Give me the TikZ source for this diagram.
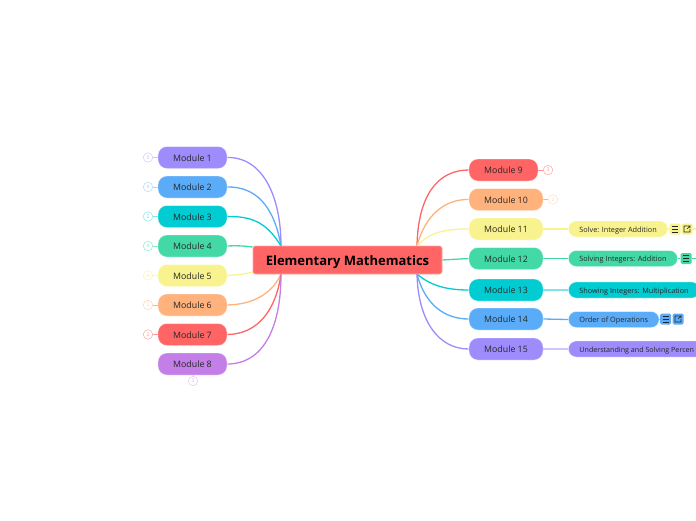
\documentclass[tikz,border=0pt]{standalone}
\usepackage{fontspec}
\setmainfont{Open Sans}
\usetikzlibrary{backgrounds}
\definecolor{modpurple}{HTML}{9E8CFC}
\definecolor{modblue}{HTML}{5AACF9}
\definecolor{modteal}{HTML}{00CCD2}
\definecolor{modgreen}{HTML}{43D9A6}
\definecolor{modyellow}{HTML}{F8F38F}
\definecolor{modorange}{HTML}{FFB27C}
\definecolor{modred}{HTML}{FF6565}
\definecolor{modviolet}{HTML}{C47EE8}
\tikzstyle{rootbox}=[
    draw=modred!60!white, fill=modred, line width=0.7pt,
    rounded corners=2.5pt,
    minimum width=189pt, minimum height=28pt,
    inner sep=0pt,
    text height=10.5pt, text depth=0pt,
    font=\fontsize{13}{14}\selectfont\bfseries,
]
\tikzstyle{modulebox}=[
    draw=white, draw opacity=0.35, line width=0.8pt,
    rounded corners=9pt,
    minimum height=22pt,
    inner sep=0pt,
    text height=7.4pt, text depth=0pt,
    font=\fontsize{8.8}{10}\selectfont,
    text=black!85,
]
\tikzstyle{topicbox}=[
    draw=white, draw opacity=0.35, line width=0.8pt,
    rounded corners=8pt,
    minimum height=16pt,
    inner xsep=11pt, inner ysep=0pt,
    text height=6.5pt, text depth=0pt,
    font=\fontsize{7.3}{8}\selectfont,
    text=black!85,
    anchor=west,
]
\tikzstyle{countmark}=[
    circle, fill=white, line width=0.6pt,
    minimum size=9.5pt, inner sep=0pt,
    font=\fontsize{5}{6}\selectfont,
]
\tikzstyle{iconbox}=[
    rounded corners=1.5pt,
    minimum size=11pt, inner sep=0pt,
]
\tikzstyle{noteicon}=[
    iconbox,
    path picture={
        \draw[sharp corners, line width=0.8pt, black!85]
            ([xshift=-3pt,yshift=3pt]path picture bounding box.center) -- ++(6pt,0)
            ([xshift=-3pt]path picture bounding box.center) -- ++(6pt,0)
            ([xshift=-3pt,yshift=-3pt]path picture bounding box.center) -- ++(6pt,0);
    },
]
\tikzstyle{linkicon}=[
    iconbox,
    path picture={
        \draw[sharp corners, line width=0.6pt, black!85]
            ([xshift=0.5pt,yshift=3pt]path picture bounding box.center) -- ++(-3.5pt,0) -- ++(0,-6pt)
            -- ++(6pt,0) -- ++(0,3pt)
            ([xshift=0pt,yshift=0pt]path picture bounding box.center) -- ++(3pt,3pt) -- ++(-2pt,0)
            ++(2pt,0) -- ++(0,-2pt);
    },
]
\tikzstyle{linkline}=[line width=1.3pt]
\begin{document}
\begin{tikzpicture}[x=1pt, y=-1pt]
    \useasboundingbox (0,0) rectangle (696,520);
    % centre
    \node[rootbox] (root) at (347.5,260) {Elementary Mathematics};
    \coordinate (rootleftn) at (281,246);
    \coordinate (rootlefts) at (281,274);
    \coordinate (rootrightn) at (417,246);
    \coordinate (rootrights) at (417,274);
    % left side
    \node[modulebox, fill=modpurple, minimum width=69pt] (m1) at (192.5,157.5) {Module 1};
    \node[modulebox, fill=modblue, minimum width=69pt] (m2) at (192.5,187) {Module 2};
    \node[modulebox, fill=modteal, minimum width=69pt] (m3) at (192.5,216.5) {Module 3};
    \node[modulebox, fill=modgreen, minimum width=69pt] (m4) at (192.5,246) {Module 4};
    \node[modulebox, fill=modyellow, minimum width=69pt] (m5) at (192.5,275.5) {Module 5};
    \node[modulebox, fill=modorange, minimum width=69pt] (m6) at (192.5,305) {Module 6};
    \node[modulebox, fill=modred, minimum width=69pt] (m7) at (192.5,334.5) {Module 7};
    \node[modulebox, fill=modviolet, minimum width=69pt] (m8) at (192.5,364) {Module 8};
    % right side
    \node[modulebox, fill=modred, minimum width=69pt] (m9) at (503.5,170) {Module 9};
    \node[modulebox, fill=modorange, minimum width=74pt] (m10) at (506,199.5) {Module 10};
    \node[modulebox, fill=modyellow, minimum width=74pt] (m11) at (506,229) {Module 11};
    \node[modulebox, fill=modgreen, minimum width=74pt] (m12) at (506,258.5) {Module 12};
    \node[modulebox, fill=modteal, minimum width=74pt] (m13) at (506,290) {Module 13};
    \node[modulebox, fill=modblue, minimum width=74pt] (m14) at (506,319) {Module 14};
    \node[modulebox, fill=modpurple, minimum width=74pt] (m15) at (506,349) {Module 15};
    % topics
    \node[topicbox, fill=modyellow] (t11) at (568,229) {Solve: Integer Addition};
    \node[topicbox, fill=modgreen] (t12) at (568,258.5) {Solving Integers: Addition};
    \node[topicbox, fill=modteal] (t13) at (568,290) {Showing Integers: Multiplication};
    \node[topicbox, fill=modblue] (t14) at (568,319.5) {Order of Operations};
    \node[topicbox, fill=modpurple, font=\fontsize{7.15}{8}\selectfont] (t15) at (568,349) {Understanding and Solving Percen};
    % icons
    \node[noteicon, fill=modyellow] (n11) at (675,229) {};
    \node[linkicon, fill=modyellow] (l11) at (687,229) {};
    \node[noteicon, fill=modgreen] (n12) at (686,258.5) {};
    \node[noteicon, fill=modblue] (n14) at (665.5,319) {};
    \node[linkicon, fill=modblue] (l14) at (678,319) {};
    \coordinate (t11out) at (696,229);
    \coordinate (t12out) at (696,258.5);
    % counts
    \node[countmark, draw=modpurple!40!white, text=modpurple!60!white] (c1) at (148,157.5) {3};
    \node[countmark, draw=modblue!40!white, text=modblue!60!white] (c2) at (148,187) {4};
    \node[countmark, draw=modteal!40!white, text=modteal!60!white] (c3) at (148,216.5) {2};
    \node[countmark, draw=modgreen!50!white, text=modgreen!70!white] (c4) at (148,246) {4};
    \node[countmark, draw=modyellow!60!white, text=modyellow] (c5) at (148,275.5) {4};
    \node[countmark, draw=modorange!50!white, text=modorange!70!white] (c6) at (148,305) {2};
    \node[countmark, draw=modred!50!white, text=modred!70!white] (c7) at (148,334.5) {2};
    \node[countmark, draw=modviolet!40!white, text=modviolet!60!white] (c8) at (193,381) {3};
    \node[countmark, draw=modred!50!white, text=modred!70!white] (c9) at (548,170) {3};
    \node[countmark, draw=modorange!40!white, text=modorange!60!white] (c10) at (553,199.5) {2};
    \begin{scope}[on background layer]
        \draw[linkline, modpurple] (m1.east) .. controls (262,157) and (281,195) .. (rootleftn);
        \draw[linkline, modblue] (m2.east) .. controls (255,186.5) and (274,205) .. (rootleftn);
        \draw[linkline, modteal] (m3.east) .. controls (255,216) and (268,225) .. (rootleftn);
        \draw[linkline, modgreen] (m4.east) .. controls (238,245.5) and (245,246) .. (root.west |- 0,247);
        \draw[linkline, modyellow] (m5.east) .. controls (238,275) and (245,274) .. (root.west |- 0,272);
        \draw[linkline, modorange] (m6.east) .. controls (255,304.5) and (273,292) .. (rootlefts);
        \draw[linkline, modred] (m7.east) .. controls (258,334) and (276,310) .. (rootlefts);
        \draw[linkline, modviolet] (m8.east) .. controls (262,364) and (281,330) .. (rootlefts);
        \draw[linkline, modred] (m9.west) .. controls (438,170) and (418,195) .. (rootrightn);
        \draw[linkline, modorange] (m10.west) .. controls (445,199) and (425,215) .. (rootrightn);
        \draw[linkline, modyellow] (m11.west) .. controls (445,229) and (430,232) .. (rootrightn);
        \draw[linkline, modgreen] (root.east) -- (m12.west);
        \draw[linkline, modteal] (m13.west) .. controls (445,290) and (430,285) .. (rootrights);
        \draw[linkline, modblue] (m14.west) .. controls (445,319) and (425,305) .. (rootrights);
        \draw[linkline, modpurple] (m15.west) .. controls (438,349) and (418,320) .. (rootrights);
        \draw[linkline, modyellow] (m11.east) -- (t11.west);
        \draw[linkline, modgreen] (m12.east) -- (t12.west);
        \draw[linkline, modteal!50!white] (m13.east) -- (t13.west);
        \draw[linkline, modblue] (m14.east) -- (t14.west);
        \draw[linkline, modpurple!50!white] (m15.east) -- (t15.west);
        \draw[linkline, modyellow] (t11.east) -- (n11.west);
        \draw[linkline, modgreen] (t12.east) -- (n12.west);
        \draw[linkline, modblue] (t14.east) -- (n14.west);
        \draw[linkline, modyellow] (l11.east) -- (t11out);
        \draw[linkline, modgreen] (n12.east) -- (t12out);
        \draw[modpurple!50!white] (m1.west) -- (c1.east);
        \draw[modblue!50!white] (m2.west) -- (c2.east);
        \draw[modteal!50!white] (m3.west) -- (c3.east);
        \draw[modgreen!60!white] (m4.west) -- (c4.east);
        \draw[modyellow!70!white] (m5.west) -- (c5.east);
        \draw[modorange] (m6.west) -- (c6.east);
        \draw[modred!70!white] (m7.west) -- (c7.east);
        \draw[modviolet!50!white] (m8.south -| c8) -- (c8.north);
        \draw[modred!70!white] (m9.east) -- (c9.west);
        \draw[modorange] (m10.east) -- (c10.west);
    \end{scope}
\end{tikzpicture}
\end{document}
